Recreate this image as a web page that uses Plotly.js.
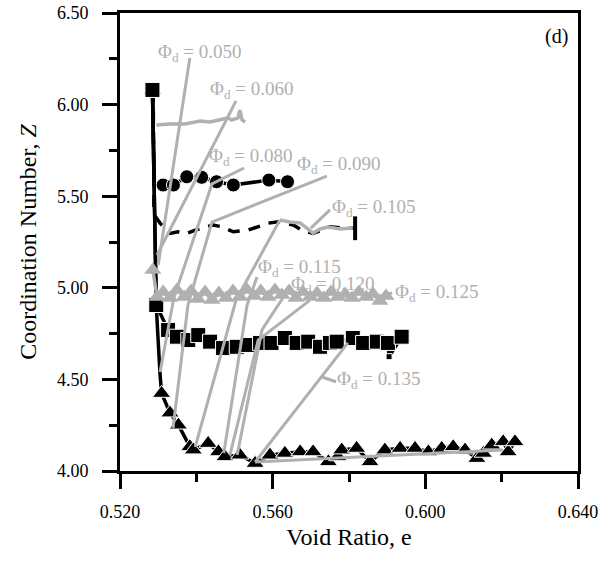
<!DOCTYPE html>
<html>
<head>
<meta charset="utf-8">
<script src="https://cdn.plot.ly/plotly-3.0.1.min.js"></script>
<style>html,body{margin:0;padding:0;background:#fff;}#chart{width:599px;height:562px;}</style>
</head>
<body>
<div id="chart"></div>
<script>
// ---------- data ----------
// black circles series
const circX = [0.5285, 0.5290, 0.5313, 0.5340, 0.5375, 0.5414, 0.5453, 0.5497, 0.5590, 0.5639];
const circY = [6.080, 5.560, 5.561, 5.561, 5.606, 5.603, 5.579, 5.561, 5.588, 5.579];
const circS = [0, 0, 14, 14, 14, 14, 14, 14, 14, 14];

// black dashed series
const dashX = [0.5287, 0.5289, 0.5305, 0.5331, 0.5352, 0.5375, 0.5397, 0.5444, 0.5466, 0.5497, 0.5536, 0.5589, 0.5615, 0.5654, 0.5676, 0.5706, 0.5728, 0.5750, 0.5790, 0.5816];
const dashY = [6.080, 5.400, 5.353, 5.297, 5.306, 5.297, 5.315, 5.343, 5.333, 5.306, 5.315, 5.353, 5.361, 5.343, 5.315, 5.297, 5.315, 5.333, 5.325, 5.325];

// gray line series (top)
const gLineX = [0.5295, 0.5331, 0.5370, 0.5410, 0.5436, 0.5462, 0.5483, 0.5493, 0.5509, 0.5514, 0.5520, 0.5528];
const gLineY = [5.889, 5.894, 5.894, 5.910, 5.905, 5.916, 5.927, 5.916, 5.927, 5.970, 5.916, 5.905];

// gray line series (middle)
const gMidX = [0.5619, 0.5645, 0.5672, 0.5706, 0.5724, 0.5745, 0.5776, 0.5810];
const gMidY = [5.370, 5.359, 5.354, 5.299, 5.321, 5.332, 5.321, 5.326];

// gray triangles series
const gTriX = [0.5286, 0.5297, 0.5313, 0.5331, 0.5349, 0.5368, 0.5386, 0.5404, 0.5423, 0.5441, 0.5459, 0.5478, 0.5496, 0.5514, 0.5533, 0.5551, 0.5569, 0.5588, 0.5606, 0.5624, 0.5643, 0.5661, 0.5679, 0.5698, 0.5716, 0.5734, 0.5753, 0.5771, 0.5790, 0.5808, 0.5826, 0.5845, 0.5863, 0.5881, 0.5897];
const gTriY = [5.097, 4.950, 4.977, 4.944, 4.988, 4.950, 4.983, 4.939, 4.977, 4.933, 4.972, 4.944, 4.983, 4.950, 4.988, 4.955, 4.983, 4.950, 4.988, 4.961, 4.983, 4.944, 4.977, 4.950, 4.972, 4.944, 4.977, 4.950, 4.966, 4.944, 4.977, 4.950, 4.966, 4.928, 4.955];

// black squares series
const sqX = [0.5285, 0.5295, 0.5326, 0.5349, 0.5379, 0.5405, 0.5436, 0.5470, 0.5506, 0.5535, 0.5567, 0.5597, 0.5632, 0.5663, 0.5693, 0.5724, 0.5750, 0.5768, 0.5810, 0.5837, 0.5873, 0.5902, 0.5905, 0.5938];
const sqY = [6.080, 4.906, 4.770, 4.733, 4.715, 4.742, 4.706, 4.671, 4.678, 4.688, 4.699, 4.699, 4.726, 4.699, 4.706, 4.678, 4.699, 4.706, 4.726, 4.699, 4.706, 4.699, 4.624, 4.733];
const sqS = [15, 15, 15, 15, 15, 15, 15, 15, 15, 15, 15, 15, 15, 15, 15, 15, 15, 15, 15, 15, 15, 15, 6, 15];

// black triangles series
const triX = [0.5285, 0.5295, 0.5305, 0.5309, 0.5331, 0.5353, 0.5383, 0.5392, 0.5431, 0.5458, 0.5475, 0.5514, 0.5554, 0.5593, 0.5632, 0.5672, 0.5706, 0.5746, 0.5771, 0.5781, 0.5820, 0.5855, 0.5894, 0.5934, 0.5973, 0.6008, 0.6043, 0.6073, 0.6104, 0.6135, 0.6152, 0.6174, 0.6204, 0.6217, 0.6235];
const triY = [6.080, 4.900, 4.524, 4.424, 4.317, 4.251, 4.133, 4.115, 4.151, 4.105, 4.078, 4.087, 4.042, 4.087, 4.097, 4.105, 4.105, 4.051, 4.078, 4.115, 4.124, 4.051, 4.115, 4.124, 4.124, 4.105, 4.124, 4.133, 4.115, 4.069, 4.097, 4.142, 4.160, 4.105, 4.160];
const triS = [16, 0, 0, 16, 16, 16, 16, 16, 16, 16, 16, 16, 16, 16, 16, 16, 16, 16, 16, 16, 16, 16, 16, 16, 16, 16, 16, 16, 16, 16, 16, 16, 16, 16, 16];

// gray leader / connecting lines (each a polyline)
const leadX = [
  [0.5383, 0.5300],
  [0.5504, 0.5297],
  [0.5525, 0.5441, 0.5341, 0.5305],
  [0.5742, 0.5441, 0.5378, 0.5339],
  [0.5619, 0.5504, 0.5397],
  [0.5559, 0.5533, 0.5472],
  [0.5630, 0.5572, 0.5507],
  [0.5698, 0.5562, 0.5488],
  [0.5797, 0.5554],
  [0.5554, 0.6203],
  [0.5750, 0.5700],
  [0.5913, 0.5881],
  [0.5766, 0.5729]
];
const leadY = [
  [6.254, 5.124],
  [6.020, 5.179],
  [5.654, 5.567, 4.944, 4.540],
  [5.610, 5.359, 4.906, 4.235],
  [5.370, 4.933, 4.131],
  [5.059, 4.906, 4.098],
  [4.955, 4.770, 4.087],
  [4.933, 4.715, 4.087],
  [4.699, 4.049],
  [4.049, 4.115],
  [5.425, 5.326],
  [4.972, 4.950],
  [4.487, 4.513]
];

// labels
const labelText = ["0.050", "0.060", "0.080", "0.090", "0.105", "0.115", "0.120", "0.125", "0.135"];
const labelX = [0.5410, 0.5546, 0.5543, 0.5774, 0.5865, 0.5669, 0.5758, 0.6031, 0.5879];
const labelY = [6.282, 6.080, 5.714, 5.670, 5.436, 5.108, 5.015, 4.972, 4.497];

// axes ticks
const xTicks = [0.52, 0.56, 0.60, 0.64];
const xMinor = [0.54, 0.58, 0.62];
const yTicks = [4.0, 4.5, 5.0, 5.5, 6.0, 6.5];
const yMinor = [4.25, 4.75, 5.25, 5.75, 6.25];

// ---------- styling ----------
const GRAY = '#b0b0b0';
const FONT = 'Liberation Serif, Times New Roman, serif';

const traces = [];
traces.push({x: dashX, y: dashY, mode: 'lines', line: {color: '#000', width: 3.5, dash: '12px,9px'}, hoverinfo: 'skip'});
traces.push({x: [dashX[dashX.length-1]], y: [dashY[dashY.length-1]], mode: 'markers',
  marker: {symbol: 'line-ns', size: 17, opacity: 1, line: {color: '#000', width: 4}}, hoverinfo: 'skip'});
traces.push({x: circX, y: circY, mode: 'lines+markers', line: {color: '#000', width: 3.5},
  marker: {symbol: 'circle', size: circS, color: '#000', opacity: 1}, hoverinfo: 'skip'});
traces.push({x: triX, y: triY, mode: 'lines+markers', line: {color: '#000', width: 3.5},
  marker: {symbol: 'triangle-up', size: triS, color: '#000', opacity: 1}, hoverinfo: 'skip'});
traces.push({x: sqX, y: sqY, mode: 'lines+markers', line: {color: '#000', width: 3.5},
  marker: {symbol: 'square', size: sqS, color: '#000', opacity: 1}, hoverinfo: 'skip'});
traces.push({x: gLineX, y: gLineY, mode: 'lines', line: {color: GRAY, width: 3.5}, hoverinfo: 'skip'});
traces.push({x: gMidX, y: gMidY, mode: 'lines', line: {color: GRAY, width: 3.5}, hoverinfo: 'skip'});
traces.push({x: gTriX, y: gTriY, mode: 'lines+markers', line: {color: GRAY, width: 3.5},
  marker: {symbol: 'triangle-up', size: 15, color: GRAY, opacity: 1}, hoverinfo: 'skip'});
for (let i = 0; i < leadX.length; i++) {
  traces.push({x: leadX[i], y: leadY[i], mode: 'lines', line: {color: GRAY, width: 3}, hoverinfo: 'skip'});
}

const annotations = labelText.map((t, i) => ({
  x: labelX[i], y: labelY[i], xref: 'x', yref: 'y', showarrow: false,
  xanchor: 'center', yanchor: 'middle',
  text: 'Φ<sub>d</sub> = ' + t,
  font: {family: FONT, size: 19, color: GRAY}
}));
annotations.push({x: 0.954, y: 0.948, xref: 'paper', yref: 'paper', showarrow: false,
  xanchor: 'center', yanchor: 'middle', text: '(d)', font: {family: FONT, size: 20, color: '#000'}});

const axisCommon = {
  showgrid: false, zeroline: false, showline: true, linewidth: 3, linecolor: '#000', mirror: true,
  ticks: 'outside', ticklen: 15, tickwidth: 3, tickcolor: '#000',
  tickfont: {family: FONT, size: 18, color: '#000'}
};

const layout = {
  width: 599, height: 562,
  margin: {l: 120, r: 21, t: 13, b: 91},
  paper_bgcolor: '#fff', plot_bgcolor: '#fff',
  showlegend: false,
  font: {family: FONT},
  xaxis: Object.assign({}, axisCommon, {
    range: [0.52, 0.64], tickmode: 'array', tickvals: xTicks,
    ticktext: xTicks.map(v => v.toFixed(3)), ticklabelstandoff: 7,
    minor: {tickmode: 'array', tickvals: xMinor, ticks: 'outside', ticklen: 8, tickwidth: 3, tickcolor: '#000', showgrid: false},
    title: {text: 'Void Ratio, e', font: {family: FONT, size: 24, color: '#000'}, standoff: 8}
  }),
  yaxis: Object.assign({}, axisCommon, {
    range: [4.0, 6.5], tickmode: 'array', tickvals: yTicks,
    ticktext: yTicks.map(v => v.toFixed(2)), ticklabelstandoff: 10,
    minor: {tickmode: 'array', tickvals: yMinor, ticks: 'outside', ticklen: 8, tickwidth: 3, tickcolor: '#000', showgrid: false},
    title: {text: 'Coordination Number, <i>Z</i>', font: {family: FONT, size: 24, color: '#000'}, standoff: 14}
  }),
  annotations: annotations
};

Plotly.newPlot('chart', traces, layout, {staticPlot: true, displayModeBar: false});
</script>
</body>
</html>
